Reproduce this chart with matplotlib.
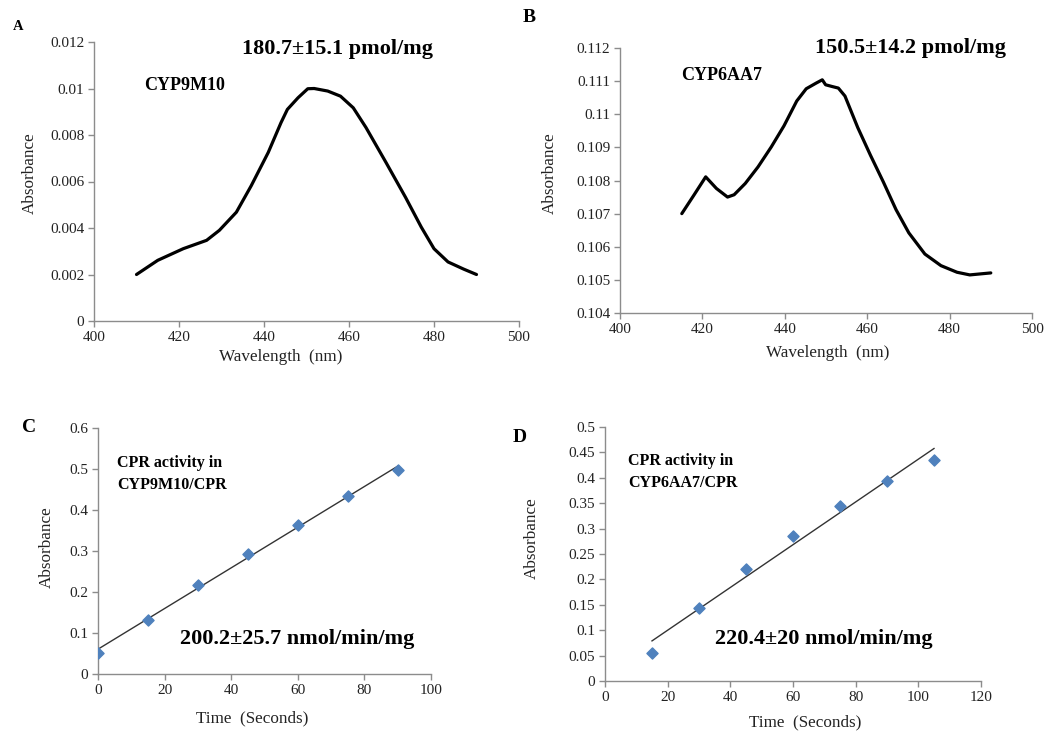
import numpy as np
import matplotlib
matplotlib.use('Agg')
import matplotlib.pyplot as plt
plt.rc('font', family='Liberation Serif')

# A: CYP9M10 spectrum
wl_a = [410, 415, 421, 426.5, 429.5, 433.5, 437, 441, 444, 445.5, 448, 450.3, 451.8,
        455, 458, 461, 464, 468.7, 473.3, 477, 480, 483.3, 487, 490]
abs_a = [0.0020, 0.00261, 0.00311, 0.00347, 0.0039, 0.00468, 0.00582, 0.00725, 0.00853,
         0.0091, 0.0096, 0.00999, 0.0100, 0.00989, 0.00967, 0.00917, 0.00832, 0.00682,
         0.00532, 0.00404, 0.00311, 0.00254, 0.00223, 0.0020]

# B: CYP6AA7 spectrum
wl_b = [415, 418, 420.8, 423.4, 426.1, 427.7, 430.4, 433.5, 436.7, 439.8, 442.9, 445.2,
        447.6, 449.1, 449.9, 451.4, 453, 454.6, 457.7, 460.8, 463.9, 467, 470.1, 474,
        477.9, 481.8, 484.9, 490]
abs_b = [0.1070, 0.10757, 0.10811, 0.10776, 0.1075, 0.10757, 0.10791, 0.10841, 0.10901,
         0.10965, 0.1104, 0.11077, 0.11094, 0.11104, 0.11089, 0.11084, 0.11079, 0.11055,
         0.1096, 0.10876, 0.10796, 0.10712, 0.10642, 0.10578, 0.10543, 0.10523, 0.10515,
         0.10521]

# C / D: CPR activity
t_c = [0, 15, 30, 45, 60, 75, 90]
abs_c = [0.052, 0.132, 0.217, 0.292, 0.363, 0.433, 0.497]
t_d = [15, 30, 45, 60, 75, 90, 105]
abs_d = [0.0557, 0.143, 0.2195, 0.286, 0.344, 0.394, 0.436]

W, H = 1063, 733
fig = plt.figure(figsize=(W / 100, H / 100), dpi=100)


def px_axes(l, t, r, b):
    return fig.add_axes([l / W, 1 - b / H, (r - l) / W, (b - t) / H])


def style(ax):
    for s in ['top', 'right']:
        ax.spines[s].set_visible(False)
    for s in ['left', 'bottom']:
        ax.spines[s].set_color('#8c8c8c')
        ax.spines[s].set_linewidth(1.0)
    ax.tick_params(direction='out', length=4, width=1, color='#8c8c8c',
                   labelsize=11, labelcolor='#222222', pad=3)


ax_a = px_axes(94, 42, 519, 321)
ax_b = px_axes(620, 48, 1032, 313)
ax_c = px_axes(98, 428, 431, 674)
ax_d = px_axes(605, 427, 981, 681)

for ax in [ax_a, ax_b, ax_c, ax_d]:
    style(ax)

# A
ax_a.plot(wl_a, abs_a, color='black', lw=2.3, solid_capstyle='round',
          solid_joinstyle='round')
ax_a.set_xlim(400, 500)
ax_a.set_ylim(0, 0.012)
ax_a.set_xticks(np.arange(400, 501, 20))
ax_a.set_yticks(np.arange(0, 0.0121, 0.002))
ax_a.set_yticklabels(['0', '0.002', '0.004', '0.006', '0.008', '0.01', '0.012'])

# B
ax_b.plot(wl_b, abs_b, color='black', lw=2.3, solid_capstyle='round',
          solid_joinstyle='round')
ax_b.set_xlim(400, 500)
ax_b.set_ylim(0.104, 0.112)
ax_b.set_xticks(np.arange(400, 501, 20))
ax_b.set_yticks(np.arange(0.104, 0.11201, 0.001))
ax_b.set_yticklabels(['0.104', '0.105', '0.106', '0.107', '0.108', '0.109', '0.11',
                      '0.111', '0.112'])

# C
fit_c = np.polyfit(t_c, abs_c, 1)
xc = np.array([min(t_c), max(t_c)])
ax_c.plot(xc, np.polyval(fit_c, xc), color='#333333', lw=1.0)
ax_c.scatter(t_c, abs_c, marker='D', s=32, color='#4f81bd', zorder=3)
ax_c.set_xlim(0, 100)
ax_c.set_ylim(0, 0.6)
ax_c.set_xticks(np.arange(0, 101, 20))
ax_c.set_yticks(np.arange(0, 0.61, 0.1))
ax_c.set_yticklabels(['0', '0.1', '0.2', '0.3', '0.4', '0.5', '0.6'])

# D
fit_d = np.polyfit(t_d, abs_d, 1)
xd = np.array([min(t_d), max(t_d)])
ax_d.plot(xd, np.polyval(fit_d, xd), color='#333333', lw=1.0)
ax_d.scatter(t_d, abs_d, marker='D', s=32, color='#4f81bd', zorder=3)
ax_d.set_xlim(0, 120)
ax_d.set_ylim(0, 0.5)
ax_d.set_xticks(np.arange(0, 121, 20))
ax_d.set_yticks(np.arange(0, 0.501, 0.05))
ax_d.set_yticklabels(['0', '0.05', '0.1', '0.15', '0.2', '0.25', '0.3', '0.35', '0.4',
                      '0.45', '0.5'])


def ftext(x, y, s, **kw):
    fig.text(x / W, 1 - y / H, s, **kw)


# axis labels
lab = dict(fontsize=12.3, color='#222222', ha='center', va='center')
ftext(30, 173, 'Absorbance', rotation=90, **lab)
ftext(281, 357, 'Wavelength  (nm)', **lab)
ftext(550, 173, 'Absorbance', rotation=90, **lab)
ftext(828, 353, 'Wavelength  (nm)', **lab)
ftext(47, 547, 'Absorbance', rotation=90, **lab)
ftext(252, 718, 'Time  (Seconds)', **lab)
ftext(532, 538, 'Absorbance', rotation=90, **lab)
ftext(805, 722, 'Time  (Seconds)', **lab)

# panel letters
ftext(18, 27, 'A', fontsize=10.5, fontweight='bold', ha='center', va='center')
ftext(529, 17, 'B', fontsize=14, fontweight='bold', ha='center', va='center')
ftext(29, 428, 'C', fontsize=14, fontweight='bold', ha='center', va='center')
ftext(520, 437, 'D', fontsize=14, fontweight='bold', ha='center', va='center')

# annotations
big = dict(fontsize=16, fontweight='bold', va='center', ha='left')
ftext(242, 49, '180.7±15.1 pmol/mg', **big)
ftext(815, 48, '150.5±14.2 pmol/mg', **big)
ftext(180, 639, '200.2±25.7 nmol/min/mg', **big)
ftext(715, 639, '220.4±20 nmol/min/mg', **big)

mid = dict(fontsize=13, fontweight='bold', va='center', ha='left')
ftext(144, 86, 'CYP9M10', **mid)
ftext(681, 76, 'CYP6AA7', **mid)

small = dict(fontsize=11.5, fontweight='bold', va='center', ha='left', linespacing=1.5)
ftext(117, 474, 'CPR activity in\nCYP9M10/CPR', **small)
ftext(628, 472, 'CPR activity in\nCYP6AA7/CPR', **small)

plt.savefig('out.png', dpi=100)
